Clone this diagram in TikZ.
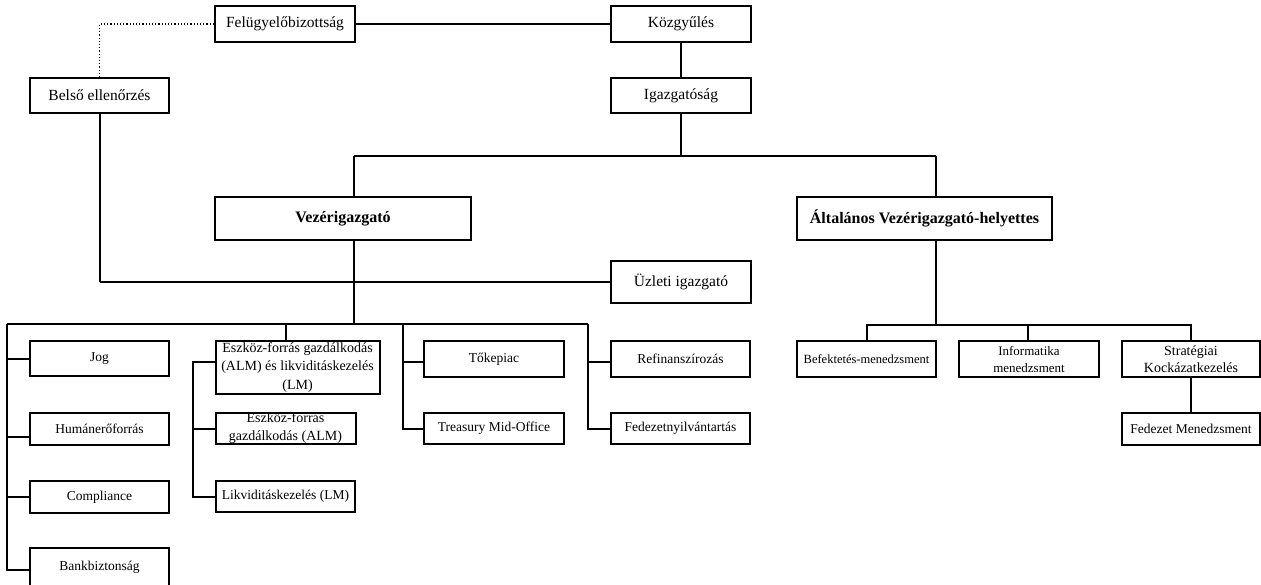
\documentclass[tikz,border=0pt]{standalone}
\usepackage{fontspec}
\setmainfont{Liberation Serif}
\begin{document}
\begin{tikzpicture}[x=1pt,y=-1pt,
  box/.style={draw, line width=2pt, fill=white, inner sep=1pt, align=center, font=\fontsize{13.5}{17}\selectfont},
  big/.style={box, font=\fontsize{15.5}{18}\selectfont},
  bold/.style={box, font=\fontsize{16}{19}\selectfont\bfseries},
  small/.style={box, font=\fontsize{12.5}{16}\selectfont},
  conn/.style={line width=2pt},
  thin/.style={line width=1.2pt}]
\useasboundingbox (0,0) rectangle (1261,584);
% nodes
\node[big, minimum width=140, minimum height=36] (feb) at (285,24) {Felügyelőbizottság};
\node[big, minimum width=140, minimum height=36] (kgy) at (681,24) {Közgyűlés};
\node[big, minimum width=140, minimum height=35] (igaz) at (681,95.5) {Igazgatóság};
\node[big, minimum width=139, minimum height=35] (belso) at (99.5,95.5) {Belső ellenőrzés};
\node[bold, minimum width=256, minimum height=43] (vez) at (343,218.5) {Vezérigazgató};
\node[bold, minimum width=255, minimum height=43] (alt) at (924.5,218.5) {Általános Vezérigazgató-helyettes};
\node[big, minimum width=140, minimum height=42] (uzl) at (681,282) {Üzleti igazgató};
% left column
\node[box, minimum width=139, minimum height=35] (jog) at (99.5,358.5) {Jog};
\node[box, minimum width=139, minimum height=32] (hum) at (99.5,429) {Humánerőforrás};
\node[box, minimum width=139, minimum height=32] (comp) at (99.5,497) {Compliance};
\node[box, minimum width=139, minimum height=38] (bank) at (99.5,567) {Bankbiztonság};
% ALM column
\node[box, minimum width=164, minimum height=53, inner sep=0pt, font=\fontsize{14}{18.5}\selectfont] (almlm) at (297.5,367.5) {Eszköz-forrás gazdálkodás\\(ALM) és likviditáskezelés\\(LM)};
\node[box, minimum width=140, minimum height=31, inner sep=0pt, font=\fontsize{14}{19}\selectfont] (alm) at (285.5,428.5) {Eszköz-forrás\\[-1pt]gazdálkodás (ALM)};
\node[box, minimum width=139, minimum height=31] (lm) at (285.5,496.5) {Likviditáskezelés (LM)};
% Tőkepiac column
\node[box, minimum width=140, minimum height=36] (tok) at (494,359) {Tőkepiac};
\node[box, minimum width=140, minimum height=31] (tre) at (494,428.5) {Treasury Mid-Office};
% Refinanszírozás column
\node[box, minimum width=139, minimum height=36] (ref) at (680.5,359) {Refinanszírozás};
\node[box, minimum width=139, minimum height=31] (fny) at (680.5,428.5) {Fedezetnyilvántartás};
% right side
\node[small, minimum width=139, minimum height=36] (bef) at (866.5,359) {Befektetés-menedzsment};
\node[small, minimum width=140, minimum height=36, inner sep=0pt, font=\fontsize{13}{17}\selectfont] (inf) at (1029,359) {Informatika\\menedzsment};
\node[box, minimum width=138, minimum height=36, inner sep=0pt, font=\fontsize{14}{17}\selectfont] (str) at (1191,359) {Stratégiai\\Kockázatkezelés};
\node[box, minimum width=138, minimum height=32] (fm) at (1191,429) {Fedezet Menedzsment};
% coordinates
\coordinate (bt1) at (354,156);
\coordinate (bt2) at (936,156);
\coordinate (vb) at (354,324);
\coordinate (lb) at (7,324);
\coordinate (c2) at (286,324);
\coordinate (c3) at (403,324);
\coordinate (c4) at (588,324);
\coordinate (rb) at (936,325);
\coordinate (ax) at (193,362);
% top connectors
\draw[dotted, thin] (feb.west) -| (belso.north);
\draw[conn] (feb.east) -- (kgy.west);
\draw[conn] (kgy.south) -- (igaz.north);
\draw[conn] (igaz.south) -- (igaz.south |- bt1);
\draw[conn] (bt1) -- (bt2);
\draw[conn] (bt1) -- (bt1 |- vez.north);
\draw[conn] (bt2) -- (bt2 |- alt.north);
\draw[conn] (belso.south) -- (belso.south |- uzl.west);
\draw[thin] (belso.south |- uzl.west) -- (uzl.west);
\draw[conn] (bt1 |- vez.south) -- (vb);
% left bus
\draw[conn] (lb) -- (c4);
\draw[conn] (lb) -- (7,570) -- (7,570 -| bank.west);
\draw[conn] (lb |- jog.west) -- (jog.west);
\draw[conn] (7,437) -- (7,437 -| hum.west);
\draw[conn] (lb |- comp.west) -- (comp.west);
% ALM column
\draw[conn] (c2) -- (c2 |- almlm.north);
\draw[conn] (ax -| almlm.west) -- (ax) -- (ax |- lm.west) -- (lm.west);
\draw[conn] (ax |- alm.west) -- (alm.west);
% Tőkepiac column
\draw[conn] (c3) -- (c3 |- tre.west) -- (tre.west);
\draw[conn] (c3 |- 0,362) -- (tok.west |- 0,362);
% Refinanszírozás column
\draw[conn] (c4) -- (c4 |- fny.west) -- (fny.west);
\draw[thin] (c4 |- 0,362) -- (ref.west |- 0,362);
% right side
\draw[conn] (bt2 |- alt.south) -- (rb);
\draw[conn] (bef.north) |- (rb) -| (str.north);
\draw[conn] (inf.north -| 1028,0) -- (1028,325);
\draw[conn] (str.south) -- (fm.north);
\end{tikzpicture}
\end{document}
